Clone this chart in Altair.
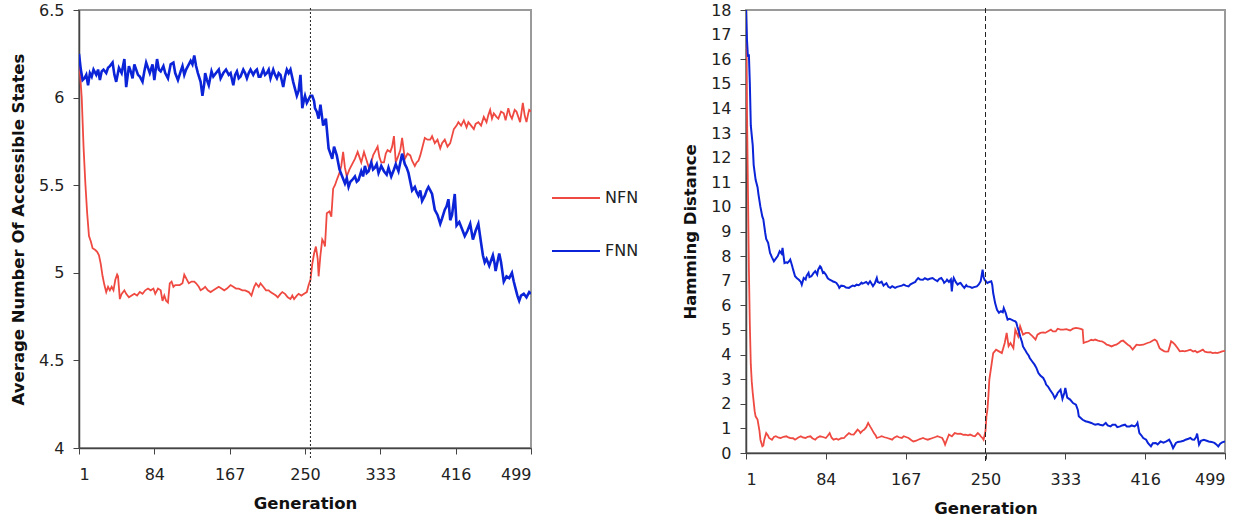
import altair as alt
import pandas as pd

FONT = "DejaVu Sans"
SERIES = ["NFN", "FNN"]
COLORS = ["#EF4A42", "#0B24D8"]
XTICKS = [1, 84, 167, 250, 333, 416, 499]
LEFT_YTICKS = [4, 4.5, 5, 5.5, 6, 6.5]
RIGHT_YTICKS = list(range(0, 19))
LEFT_SWITCH = [256]
RIGHT_SWITCH = [250]

# ---- Left panel: Average Number Of Accessible States ----
left_fnn_gen = [1, 3, 5, 7, 9, 11, 13, 15, 17, 20, 22, 24, 26, 28, 31, 33, 35, 38, 40, 42, 45, 48, 51, 53, 56, 58, 60, 62, 64, 66, 68, 71, 73, 75, 77, 79, 82, 84, 87, 89, 91, 94, 96, 99, 102, 105, 107, 110, 113, 115, 117, 119, 121, 124, 126, 128, 130, 132, 135, 137, 139, 140, 142, 144, 147, 149, 152, 155, 157, 160, 163, 166, 168, 171, 173, 175, 177, 179, 182, 184, 186, 188, 190, 193, 195, 197, 199, 201, 204, 206, 208, 210, 212, 215, 217, 219, 221, 223, 226, 228, 230, 232, 234, 237, 239, 241, 243, 245, 247, 249, 250, 252, 254, 256, 258, 260, 261, 263, 265, 267, 270, 273, 276, 278, 280, 282, 285, 288, 291, 294, 296, 298, 300, 302, 305, 307, 309, 312, 314, 316, 318, 320, 323, 325, 327, 329, 331, 334, 337, 340, 342, 345, 348, 350, 353, 355, 357, 360, 362, 364, 366, 368, 371, 373, 375, 377, 379, 382, 384, 386, 388, 390, 393, 396, 399, 401, 404, 406, 408, 410, 412, 415, 417, 420, 423, 426, 429, 432, 435, 438, 441, 444, 446, 448, 450, 453, 455, 457, 459, 460, 462, 464, 466, 469, 472, 475, 478, 480, 482, 484, 486, 488, 491, 494, 497, 499]
left_fnn_val = [6.25, 6.16, 6.10, 6.11, 6.13, 6.07, 6.14, 6.12, 6.16, 6.13, 6.16, 6.10, 6.15, 6.16, 6.14, 6.17, 6.18, 6.20, 6.13, 6.09, 6.17, 6.14, 6.22, 6.06, 6.18, 6.15, 6.11, 6.19, 6.16, 6.13, 6.12, 6.09, 6.15, 6.20, 6.17, 6.14, 6.19, 6.10, 6.22, 6.16, 6.15, 6.18, 6.14, 6.11, 6.19, 6.20, 6.14, 6.10, 6.15, 6.18, 6.13, 6.16, 6.18, 6.21, 6.19, 6.24, 6.18, 6.14, 6.09, 6.01, 6.08, 6.14, 6.10, 6.07, 6.15, 6.12, 6.14, 6.16, 6.11, 6.14, 6.16, 6.13, 6.14, 6.07, 6.13, 6.15, 6.11, 6.12, 6.16, 6.14, 6.11, 6.14, 6.16, 6.13, 6.15, 6.16, 6.12, 6.12, 6.16, 6.13, 6.14, 6.16, 6.11, 6.16, 6.13, 6.11, 6.14, 6.13, 6.06, 6.12, 6.16, 6.14, 6.16, 6.09, 6.05, 6.01, 6.04, 6.13, 5.94, 5.99, 6.01, 5.97, 5.99, 6.01, 6.01, 5.98, 5.94, 5.92, 5.88, 5.96, 5.84, 5.88, 5.71, 5.68, 5.65, 5.72, 5.67, 5.59, 5.55, 5.51, 5.54, 5.49, 5.52, 5.53, 5.55, 5.52, 5.53, 5.58, 5.55, 5.61, 5.57, 5.58, 5.63, 5.59, 5.60, 5.62, 5.57, 5.61, 5.58, 5.56, 5.60, 5.55, 5.59, 5.62, 5.58, 5.63, 5.68, 5.62, 5.60, 5.57, 5.52, 5.47, 5.49, 5.46, 5.44, 5.47, 5.41, 5.44, 5.47, 5.49, 5.47, 5.45, 5.36, 5.33, 5.28, 5.31, 5.36, 5.38, 5.42, 5.30, 5.33, 5.45, 5.27, 5.29, 5.25, 5.21, 5.24, 5.28, 5.19, 5.24, 5.28, 5.17, 5.10, 5.06, 5.08, 5.04, 5.07, 5.10, 5.05, 5.01, 5.06, 5.11, 5.06, 4.95, 4.98, 4.97, 5.00, 4.95, 4.91, 4.87, 4.84, 4.87, 4.88, 4.86, 4.89, 4.88]

left_nfn_gen = [1, 2, 4, 6, 8, 10, 12, 14, 16, 19, 21, 23, 25, 27, 29, 31, 33, 35, 37, 39, 41, 43, 44, 46, 48, 51, 53, 56, 59, 62, 65, 68, 71, 74, 77, 80, 83, 85, 88, 91, 93, 95, 97, 99, 101, 103, 105, 107, 109, 112, 115, 117, 120, 122, 125, 128, 130, 133, 135, 138, 140, 143, 146, 149, 152, 155, 158, 161, 164, 168, 171, 174, 177, 181, 184, 188, 191, 194, 196, 199, 201, 204, 207, 210, 212, 215, 218, 220, 223, 225, 228, 231, 234, 236, 238, 241, 243, 246, 249, 252, 254, 256, 258, 260, 262, 264, 265, 267, 269, 271, 272, 274, 277, 279, 281, 283, 285, 288, 290, 292, 294, 296, 299, 302, 305, 308, 310, 312, 315, 318, 321, 323, 325, 328, 330, 332, 334, 337, 339, 341, 344, 346, 348, 350, 353, 355, 357, 360, 363, 366, 368, 371, 373, 375, 377, 379, 382, 385, 388, 390, 393, 396, 399, 401, 404, 407, 410, 412, 414, 417, 419, 422, 425, 428, 430, 433, 436, 438, 441, 444, 447, 450, 452, 454, 456, 458, 461, 463, 466, 469, 471, 474, 476, 478, 481, 483, 485, 487, 490, 492, 494, 496, 497, 499]
left_nfn_val = [6.22, 6.15, 6.00, 5.72, 5.51, 5.34, 5.21, 5.18, 5.14, 5.13, 5.12, 5.10, 5.05, 4.98, 4.93, 4.89, 4.92, 4.90, 4.92, 4.90, 4.96, 4.99, 4.98, 4.85, 4.88, 4.90, 4.88, 4.86, 4.87, 4.88, 4.87, 4.89, 4.88, 4.90, 4.91, 4.90, 4.91, 4.88, 4.91, 4.90, 4.84, 4.87, 4.84, 4.83, 4.94, 4.95, 4.92, 4.93, 4.93, 4.93, 4.94, 4.99, 4.96, 4.94, 4.95, 4.95, 4.94, 4.92, 4.90, 4.91, 4.92, 4.90, 4.89, 4.90, 4.91, 4.92, 4.91, 4.90, 4.91, 4.93, 4.92, 4.91, 4.91, 4.90, 4.90, 4.89, 4.87, 4.92, 4.94, 4.92, 4.94, 4.92, 4.90, 4.90, 4.89, 4.88, 4.87, 4.86, 4.88, 4.89, 4.88, 4.86, 4.85, 4.87, 4.85, 4.87, 4.88, 4.87, 4.88, 4.89, 4.93, 4.96, 5.05, 5.11, 5.15, 5.08, 4.98, 5.10, 5.19, 5.17, 5.15, 5.34, 5.35, 5.32, 5.48, 5.50, 5.53, 5.57, 5.61, 5.69, 5.60, 5.55, 5.59, 5.62, 5.65, 5.69, 5.66, 5.63, 5.69, 5.64, 5.59, 5.63, 5.67, 5.70, 5.72, 5.66, 5.63, 5.63, 5.68, 5.70, 5.69, 5.72, 5.78, 5.63, 5.67, 5.70, 5.77, 5.65, 5.68, 5.67, 5.64, 5.61, 5.63, 5.64, 5.67, 5.71, 5.77, 5.76, 5.76, 5.78, 5.74, 5.76, 5.71, 5.74, 5.76, 5.72, 5.74, 5.78, 5.82, 5.84, 5.86, 5.84, 5.87, 5.83, 5.86, 5.84, 5.82, 5.85, 5.86, 5.84, 5.89, 5.86, 5.90, 5.93, 5.88, 5.91, 5.89, 5.88, 5.92, 5.91, 5.87, 5.94, 5.90, 5.88, 5.93, 5.92, 5.89, 5.86, 5.97, 5.90, 5.86, 5.91, 5.93, 5.92]

# ---- Right panel: Hamming Distance ----
right_fnn_gen = [1, 2, 3, 4, 5, 6, 8, 9, 11, 13, 14, 16, 18, 19, 21, 22, 24, 26, 28, 30, 32, 34, 36, 38, 39, 41, 43, 44, 46, 47, 49, 50, 52, 54, 56, 58, 59, 61, 63, 64, 66, 67, 69, 71, 73, 75, 76, 78, 79, 81, 82, 84, 86, 88, 90, 91, 93, 95, 97, 98, 100, 103, 105, 108, 110, 112, 114, 116, 118, 119, 121, 122, 124, 126, 128, 130, 131, 133, 135, 137, 138, 140, 142, 144, 145, 147, 149, 151, 153, 156, 158, 161, 163, 165, 167, 170, 172, 175, 177, 178, 180, 182, 185, 187, 190, 192, 195, 197, 200, 202, 204, 206, 207, 209, 210, 212, 214, 215, 216, 217, 219, 221, 223, 224, 226, 228, 230, 231, 234, 236, 238, 241, 243, 245, 247, 248, 249, 251, 252, 254, 256, 257, 258, 260, 261, 262, 264, 266, 268, 269, 271, 272, 273, 275, 277, 279, 281, 282, 283, 285, 286, 288, 289, 291, 293, 295, 296, 298, 301, 303, 305, 307, 310, 312, 313, 315, 317, 320, 322, 324, 325, 328, 330, 332, 333, 335, 338, 341, 344, 346, 347, 349, 351, 354, 357, 360, 362, 364, 367, 369, 372, 375, 377, 380, 382, 385, 387, 390, 392, 395, 397, 400, 402, 405, 407, 408, 410, 412, 414, 417, 419, 422, 424, 427, 429, 432, 435, 438, 441, 443, 445, 448, 450, 453, 456, 458, 461, 463, 465, 467, 469, 470, 472, 474, 477, 480, 482, 485, 488, 490, 492, 494, 496, 499]
right_fnn_val = [18.0, 16.8, 16.1, 16.2, 15.0, 13.3, 12.5, 11.7, 11.1, 10.8, 10.5, 10.0, 9.6, 9.5, 8.94, 8.7, 8.54, 8.13, 7.95, 7.79, 7.9, 8.0, 8.2, 8.1, 8.33, 7.72, 7.75, 7.72, 7.8, 7.86, 7.6, 7.45, 7.18, 7.1, 7.04, 6.95, 6.84, 7.11, 7.05, 7.2, 7.32, 7.15, 7.18, 7.3, 7.39, 7.25, 7.45, 7.59, 7.55, 7.32, 7.35, 7.25, 7.1, 7.04, 7.0, 6.98, 6.95, 6.91, 6.8, 6.71, 6.8, 6.78, 6.72, 6.71, 6.76, 6.8, 6.78, 6.84, 6.82, 6.84, 6.92, 6.88, 6.91, 6.95, 6.86, 6.98, 6.92, 6.78, 6.9, 7.11, 6.95, 6.91, 6.96, 6.8, 6.84, 6.9, 6.75, 6.71, 6.78, 6.71, 6.75, 6.78, 6.8, 6.84, 6.8, 6.77, 6.85, 6.91, 6.95, 7.02, 7.11, 7.05, 7.04, 7.1, 7.04, 7.08, 7.11, 7.05, 6.98, 7.08, 7.11, 7.0, 6.91, 6.98, 7.04, 6.95, 7.05, 6.57, 6.95, 7.11, 6.95, 6.84, 6.9, 6.91, 6.8, 6.71, 6.82, 6.77, 6.75, 6.71, 6.74, 6.77, 6.85, 6.98, 7.45, 7.15, 7.04, 6.95, 6.91, 6.95, 6.98, 6.84, 6.5, 6.09, 5.95, 5.82, 5.7, 5.76, 5.72, 5.89, 5.69, 5.55, 5.42, 5.45, 5.42, 5.38, 5.35, 5.3, 5.15, 4.9, 4.74, 4.5, 4.33, 4.2, 4.06, 3.95, 3.86, 3.75, 3.59, 3.45, 3.25, 3.15, 3.05, 2.9, 2.78, 2.7, 2.57, 2.4, 2.23, 2.35, 2.44, 2.57, 2.2, 2.45, 2.64, 2.25, 2.17, 2.03, 1.96, 1.75, 1.49, 1.42, 1.35, 1.29, 1.26, 1.22, 1.18, 1.15, 1.18, 1.15, 1.12, 1.22, 1.12, 1.08, 1.15, 1.15, 1.05, 1.08, 1.12, 1.15, 1.08, 1.08, 1.12, 1.08, 1.15, 1.22, 0.81, 0.72, 0.61, 0.54, 0.4, 0.27, 0.4, 0.41, 0.35, 0.47, 0.42, 0.47, 0.54, 0.4, 0.2, 0.41, 0.45, 0.47, 0.5, 0.54, 0.58, 0.61, 0.55, 0.54, 0.65, 0.79, 0.34, 0.5, 0.54, 0.5, 0.47, 0.45, 0.41, 0.35, 0.27, 0.38, 0.43, 0.47]

right_nfn_gen = [1, 2, 3, 4, 5, 6, 7, 8, 10, 11, 13, 15, 16, 18, 19, 20, 22, 24, 25, 28, 30, 32, 35, 37, 40, 43, 45, 47, 50, 52, 55, 58, 60, 63, 65, 68, 70, 73, 75, 78, 81, 84, 86, 88, 90, 92, 95, 97, 100, 103, 105, 108, 110, 113, 115, 117, 119, 120, 122, 124, 126, 128, 130, 132, 134, 136, 137, 140, 142, 145, 148, 150, 153, 155, 158, 160, 163, 165, 168, 170, 173, 175, 178, 180, 183, 185, 188, 190, 193, 195, 198, 200, 203, 205, 207, 208, 210, 212, 214, 215, 218, 221, 224, 227, 229, 232, 234, 237, 239, 242, 244, 245, 247, 248, 250, 251, 252, 253, 254, 256, 258, 261, 264, 267, 270, 272, 274, 276, 279, 281, 284, 286, 289, 292, 295, 299, 302, 304, 307, 310, 312, 315, 318, 320, 323, 325, 328, 331, 334, 338, 341, 344, 347, 349, 351, 352, 355, 357, 360, 362, 364, 367, 369, 371, 374, 376, 378, 381, 384, 386, 389, 391, 393, 395, 398, 400, 403, 405, 407, 410, 414, 417, 419, 421, 424, 426, 428, 431, 433, 436, 438, 440, 442, 443, 445, 447, 450, 452, 455, 457, 460, 463, 466, 468, 470, 473, 476, 478, 481, 484, 486, 489, 491, 494, 496, 499]
right_nfn_val = [18.0, 14.0, 10.8, 7.5, 5.2, 3.6, 2.9, 2.44, 1.7, 1.49, 1.36, 0.9, 0.54, 0.27, 0.3, 0.54, 0.81, 0.7, 0.61, 0.54, 0.65, 0.68, 0.62, 0.61, 0.66, 0.68, 0.63, 0.61, 0.6, 0.54, 0.62, 0.68, 0.63, 0.61, 0.66, 0.68, 0.6, 0.54, 0.62, 0.68, 0.65, 0.61, 0.7, 0.81, 0.62, 0.54, 0.58, 0.54, 0.6, 0.61, 0.7, 0.81, 0.76, 0.75, 0.85, 0.95, 0.88, 0.81, 0.9, 0.95, 1.05, 1.22, 1.08, 0.95, 0.81, 0.7, 0.61, 0.65, 0.68, 0.64, 0.61, 0.58, 0.54, 0.62, 0.68, 0.64, 0.61, 0.68, 0.64, 0.61, 0.52, 0.47, 0.5, 0.54, 0.58, 0.61, 0.56, 0.54, 0.58, 0.61, 0.65, 0.68, 0.64, 0.61, 0.45, 0.34, 0.55, 0.75, 0.7, 0.68, 0.81, 0.78, 0.79, 0.74, 0.75, 0.72, 0.75, 0.7, 0.68, 0.81, 0.74, 0.68, 0.6, 0.54, 0.9, 1.49, 1.76, 2.3, 2.98, 3.52, 4.06, 4.2, 4.13, 4.06, 4.47, 4.88, 4.34, 4.47, 4.26, 5.01, 4.74, 5.15, 4.81, 4.88, 4.88, 4.74, 4.61, 4.81, 4.88, 4.9, 4.88, 4.95, 5.01, 4.94, 4.94, 5.05, 5.01, 5.01, 5.03, 4.98, 5.05, 5.08, 5.06, 5.04, 5.01, 4.47, 4.52, 4.54, 4.6, 4.58, 4.61, 4.57, 4.55, 4.54, 4.47, 4.4, 4.38, 4.33, 4.38, 4.4, 4.48, 4.55, 4.57, 4.5, 4.4, 4.35, 4.2, 4.3, 4.4, 4.38, 4.4, 4.45, 4.48, 4.5, 4.57, 4.61, 4.55, 4.26, 4.2, 4.13, 4.12, 4.13, 4.4, 4.54, 4.48, 4.4, 4.25, 4.13, 4.15, 4.13, 4.16, 4.2, 4.12, 4.15, 4.09, 4.14, 4.2, 4.12, 4.09, 4.1, 4.06, 4.08, 4.06, 4.1, 4.13, 4.15]


def frame(gens, vals, name):
    return pd.DataFrame({"gen": gens, "val": vals, "series": name})


def panel(nfn, fnn, switch, ydomain, yticks, ytitle, width, height, blue_w,
          dash, legend):
    x = alt.X("gen:Q", scale=alt.Scale(domain=[1, 499], nice=False, zero=False),
              axis=alt.Axis(values=XTICKS, title="Generation", tickSize=6,
                            labelPadding=12, titlePadding=13))
    y = alt.Y("val:Q", scale=alt.Scale(domain=ydomain, nice=False, zero=False),
              axis=alt.Axis(values=yticks, format="~g", title=ytitle, tickSize=6,
                            labelPadding=9, titlePadding=12))
    color = alt.Color("series:N", scale=alt.Scale(domain=SERIES, range=COLORS),
                      legend=legend)
    red = alt.Chart(nfn).mark_line(strokeWidth=1.8, clip=True).encode(
        x=x, y=y, color=color)
    blue = alt.Chart(fnn).mark_line(strokeWidth=blue_w, clip=True).encode(
        x=x, y=y, color=color)
    rule = alt.Chart(pd.DataFrame({"gen": switch})).mark_rule(
        strokeDash=dash, color="#222222", strokeWidth=1).encode(
        x="gen:Q", y=alt.value(-2), y2=alt.value(height + 11))
    return alt.layer(red, blue, rule).properties(width=width, height=height)


legend = alt.Legend(title=None, orient="none", legendX=472, legendY=163,
                    symbolType="stroke", symbolSize=2304, symbolStrokeWidth=2,
                    labelFont=FONT, labelFontSize=16, labelColor="#222222",
                    rowPadding=20, labelOffset=4)

left = panel(frame(left_nfn_gen, left_nfn_val, "NFN"),
             frame(left_fnn_gen, left_fnn_val, "FNN"),
             LEFT_SWITCH, [4, 6.5], LEFT_YTICKS,
             "Average Number Of Accessible States", 452, 438, 2.6, [2, 2], legend)
right = panel(frame(right_nfn_gen, right_nfn_val, "NFN"),
              frame(right_fnn_gen, right_fnn_val, "FNN"),
              RIGHT_SWITCH, [0, 18], RIGHT_YTICKS,
              "Hamming Distance", 479, 443, 2.0, [5, 3], None)

chart = alt.hconcat(left, right, spacing=41).resolve_scale(
    color="independent").properties(
    padding={"left": 9, "top": 1, "right": 5, "bottom": 3},
    background="white"
).configure_view(stroke="#9a9a9a", strokeWidth=2).configure_axis(
    grid=False, domainColor="#444444", domainWidth=1.5, tickColor="#444444",
    labelFont=FONT, labelFontSize=16, labelColor="#222222",
    titleFont=FONT, titleFontSize=16.5, titleFontWeight="bold", titleColor="#111111"
)

chart.save("out.html", embed_options={"renderer": "svg", "actions": False})
